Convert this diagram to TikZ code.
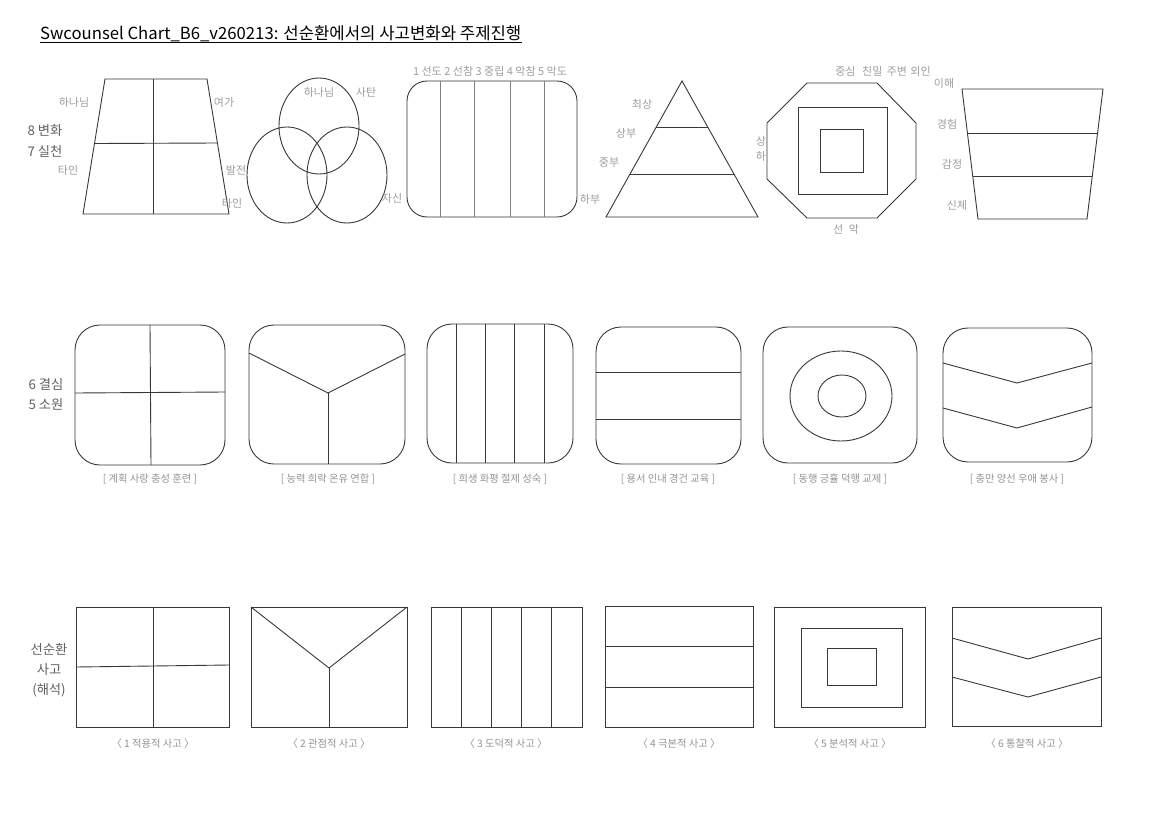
\documentclass[tikz,border=0pt]{standalone}
\usepackage{fontspec}
\setmainfont{Noto Sans CJK KR}
\begin{document}
\begin{tikzpicture}[x=1pt,y=-1pt,
  shp/.style={draw=black!78, line width=0.9pt},
  lgray/.style={draw=black!50, line width=0.9pt},
  lbl/.style={text=black!38, font=\fontsize{11}{13}\selectfont, inner sep=0pt},
  side/.style={text=black!62, font=\fontsize{13.3}{15}\selectfont, inner sep=0pt},
  captxt/.style={text=black!42, font=\fontsize{10.3}{12}\selectfont, inner sep=0pt}]
\useasboundingbox (0,0) rectangle (1152,814);
\fill[white] (0,0) rectangle (1152,814);
% title
\node[anchor=base west, inner sep=0pt, font=\fontsize{16.7}{19}\selectfont] (title) at (40,39) {Swcounsel Chart\_B6\_v260213: 선순환에서의 사고변화와 주제진행};
\draw[line width=0.8pt] ([yshift=-3.5pt]title.base west) -- ([yshift=-3.5pt]title.base east);

% ---------- top row ----------
\node[side] (t8) at (45,131) {8 변화};
\node[side] (t7) at (45,151) {7 실천};
% trapezoid
\draw[shp] (105,79) -- (207,79) -- (229,214) -- (83,214) -- cycle;
\draw[shp] (153,79) -- (153,214);
\draw[shp] (94.5,143.5) -- (217.5,143);
\node[lbl] (a1) at (74,102) {하나님};
\node[lbl] (a2) at (224,102) {여가};
\node[lbl] (a3) at (68,170) {타인};
\node[lbl] (a4) at (236,170) {발전};
\node[lbl] (a5) at (232,203) {타인};
% circles
\draw[shp] (319,126) ellipse [x radius=40pt, y radius=48pt];
\draw[shp] (287,175) ellipse [x radius=40pt, y radius=48pt];
\draw[shp] (347,175) ellipse [x radius=40pt, y radius=48pt];
\node[lbl] (b1) at (319,92) {하나님};
\node[lbl] (b2) at (366,92) {사탄};
\node[lbl] (b3) at (392,198) {자신};
% rounded rect with lines
\draw[shp, rounded corners=20pt] (407,81) rectangle (577,217);
\foreach \x in {440,474,510,544} \draw[lgray] (\x,81) -- (\x,217);
\node[lbl] (c1) at (490,71) {1 선도 2 선참 3 중립 4 악참 5 악도};
% pyramid
\draw[shp] (682,81) -- (758,217) -- (606,217) -- cycle;
\draw[shp] (656.3,127) -- (707.7,127);
\draw[shp] (630,174) -- (734,174);
\node[lbl] (d1) at (642,104) {최상};
\node[lbl] (d2) at (626,133) {상부};
\node[lbl] (d3) at (609,163) {중부};
\node[lbl] (d4) at (590,199) {하부};
% octagon
\draw[shp] (807,83) -- (877,83) -- (916,123) -- (916,179) -- (877,218) -- (807,218) -- (767,179) -- (767,123) -- cycle;
\draw[shp] (798,107) rectangle (887,194);
\draw[shp] (820,129) rectangle (863,172);
\node[lbl] (e1) at (883,71) {중심\hspace{0.6em}친밀\hspace{0.4em}주변\hspace{0.3em}외인};
\node[lbl] (e2) at (761,141) {상};
\node[lbl] (e3) at (761,156) {하};
\node[lbl] (e4) at (846,229) {선\hspace{0.5em}악};
% inverted trapezoid
\draw[shp] (962,89) -- (1103,89) -- (1087,219) -- (978,219) -- cycle;
\draw[shp] (967.4,133) -- (1097.6,133);
\draw[shp] (972.7,176) -- (1092.3,176);
\node[lbl] (f1) at (944,83) {이해};
\node[lbl] (f2) at (947,124) {경험};
\node[lbl] (f3) at (952,164) {감정};
\node[lbl] (f4) at (957,205) {신체};

% ---------- middle row ----------
\node[side] (m6) at (46,384) {6 결심};
\node[side] (m5) at (46,404) {5 소원};
\begin{scope}[rounded corners=25pt]
\draw[shp] (75,325) rectangle (225,465);
\draw[shp] (249,325) rectangle (405,464);
\draw[shp] (427,324) rectangle (573,463);
\draw[shp] (596,327) rectangle (741,464);
\draw[shp] (763,327) rectangle (917,463);
\draw[shp] (943,328) rectangle (1092,462);
\end{scope}
\draw[shp] (150,325) -- (151,465);
\draw[shp] (75,393) -- (225,392);
\draw[shp] (249,353) -- (328,393) -- (405,354);
\draw[shp] (328,393) -- (328,464);
\foreach \x in {456,485,514,544} \draw[shp] (\x,324) -- (\x,463);
\draw[shp] (596,372) -- (741,372);
\draw[shp] (596,419) -- (741,419);
\draw[shp] (841,396) ellipse [x radius=51pt, y radius=45pt];
\draw[shp] (842,396) ellipse [x radius=24pt, y radius=21pt];
\draw[shp] (943,363) -- (1017,383) -- (1092,363);
\draw[shp] (943,408) -- (1017,428) -- (1092,407);
\node[captxt] (g1) at (150,479) {[ 계획 사랑 충성 훈련 ]};
\node[captxt] (g2) at (328,479) {[ 능력 희락 온유 연합 ]};
\node[captxt] (g3) at (500,479) {[ 희생 화평 절제 성숙 ]};
\node[captxt] (g4) at (668,479) {[ 용서 인내 경건 교육 ]};
\node[captxt] (g5) at (840,479) {[ 동행 긍휼 덕행 교제 ]};
\node[captxt] (g6) at (1017,479) {[ 충만 양선 우애 봉사 ]};

% ---------- bottom row ----------
\node[side] (s1) at (49,649) {선순환};
\node[side] (s2) at (49,670) {사고};
\node[side] (s3) at (49,690) {(해석)};
\draw[shp] (76,607) rectangle (229,727);
\draw[shp] (153,607) -- (153,727);
\draw[shp] (76,667) -- (229,665);
\draw[shp] (251,607) rectangle (407,727);
\draw[shp] (251,607) -- (329,668) -- (407,607);
\draw[shp] (329,668) -- (329,727);
\draw[shp] (431,607) rectangle (582,727);
\foreach \x in {461.2,491.4,521.6,551.8} \draw[shp] (\x,607) -- (\x,727);
\draw[shp] (605,606) rectangle (753,727);
\draw[shp] (605,646) -- (753,646);
\draw[shp] (605,687) -- (753,687);
\draw[shp] (774,607) rectangle (925,727);
\draw[shp] (801,628) rectangle (902,707);
\draw[shp] (827,648) rectangle (876,685);
\draw[shp] (952,607) rectangle (1101,726);
\draw[shp] (952,638) -- (1028,659) -- (1101,638);
\draw[shp] (952,677) -- (1028,697) -- (1101,677);
\node[captxt] (h1) at (153,744) {〈 1 적용적 사고 〉};
\node[captxt] (h2) at (329,744) {〈 2 관점적 사고 〉};
\node[captxt] (h3) at (506,744) {〈 3 도덕적 사고 〉};
\node[captxt] (h4) at (679,744) {〈 4 극본적 사고 〉};
\node[captxt] (h5) at (850,744) {〈 5 분석적 사고 〉};
\node[captxt] (h6) at (1027,744) {〈 6 통찰적 사고 〉};
\end{tikzpicture}
\end{document}
